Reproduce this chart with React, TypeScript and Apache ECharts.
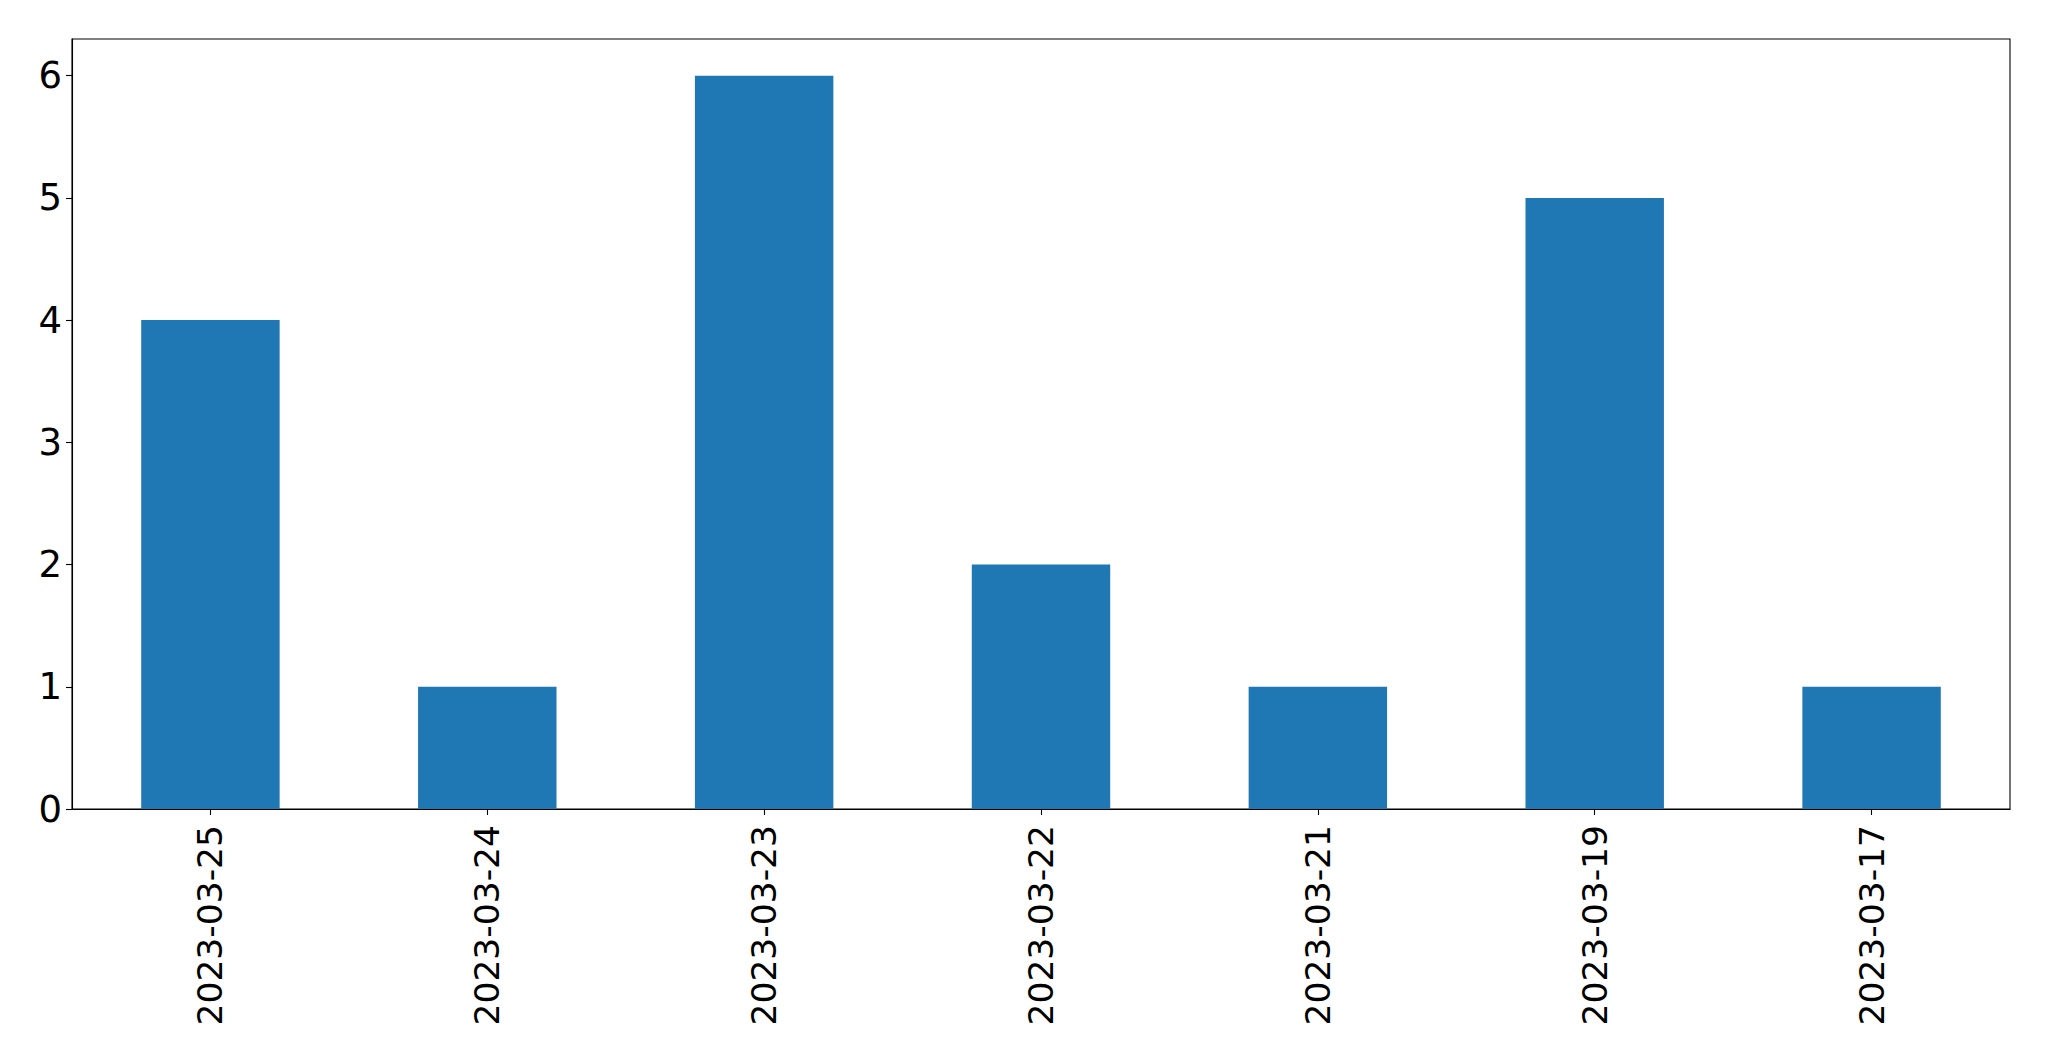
import React, { useEffect, useRef } from "react";
import * as echarts from "echarts";

const categories = [
  "2023-03-25",
  "2023-03-24",
  "2023-03-23",
  "2023-03-22",
  "2023-03-21",
  "2023-03-19",
  "2023-03-17",
];
const counts = [4, 1, 6, 2, 1, 5, 1];
const yTicks = [0, 1, 2, 3, 4, 5, 6];

export default function App() {
  const ref = useRef<HTMLDivElement>(null);
  useEffect(() => {
    if (!ref.current) return;
    const chart = echarts.init(ref.current, null, { renderer: "svg" });
    const font = "DejaVu Sans";
    chart.setOption({
      animation: false,
      backgroundColor: "#ffffff",
      grid: {
        left: 72,
        right: 39,
        top: 39,
        bottom: 252,
        show: true,
        borderColor: "#000000",
        borderWidth: 1.1,
        backgroundColor: "transparent",
      },
      xAxis: {
        type: "category",
        data: categories,
        boundaryGap: true,
        axisLine: { show: true, lineStyle: { color: "#000000", width: 1.1 } },
        axisTick: {
          show: true,
          alignWithLabel: true,
          length: 6,
          lineStyle: { color: "#000000", width: 1.1 },
        },
        axisLabel: {
          rotate: 90,
          margin: 16,
          color: "#000000",
          fontFamily: font,
          fontSize: 34.5,
        },
        splitLine: { show: false },
      },
      yAxis: {
        type: "value",
        min: 0,
        max: 6.3,
        interval: 1,
        axisLine: { show: true, lineStyle: { color: "#000000", width: 1.1 } },
        axisTick: {
          show: true,
          length: 6,
          customValues: yTicks,
          lineStyle: { color: "#000000", width: 1.1 },
        },
        axisLabel: {
          margin: 10,
          color: "#000000",
          fontFamily: font,
          fontSize: 37,
          customValues: yTicks,
        },
        splitLine: { show: false },
      },
      series: [
        {
          type: "bar",
          data: counts,
          barWidth: "50%",
          itemStyle: { color: "#1f77b4" },
        },
      ],
    });
    return () => chart.dispose();
  }, []);
  return (
    <div
      ref={ref}
      style={{ position: "fixed", left: 0, top: 0, width: 2049, height: 1061 }}
    />
  );
}
